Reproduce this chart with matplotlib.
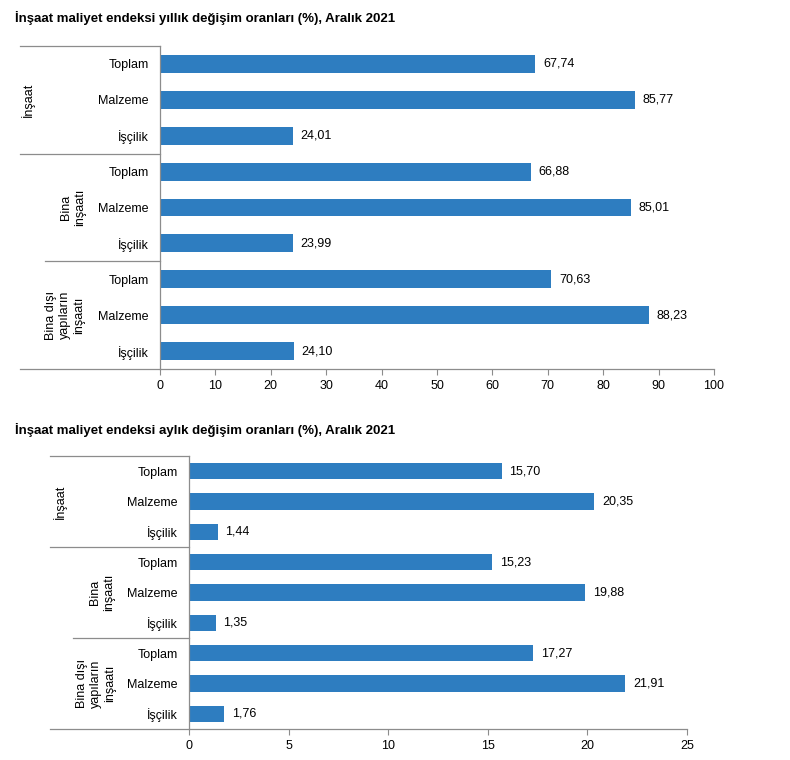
import matplotlib.pyplot as plt
from matplotlib.ticker import MultipleLocator

plt.rcParams['font.family'] = ['Liberation Sans', 'DejaVu Sans']

# data
categories = ["Toplam", "Malzeme", "İşçilik"] * 3
groups = ["İnşaat", "Bina\ninşaatı", "Bina dışı\nyapıların\ninşaatı"]
yearly = [67.74, 85.77, 24.01, 66.88, 85.01, 23.99, 70.63, 88.23, 24.10]
monthly = [15.70, 20.35, 1.44, 15.23, 19.88, 1.35, 17.27, 21.91, 1.76]

title_yearly = "İnşaat maliyet endeksi yıllık değişim oranları (%), Aralık 2021"
title_monthly = "İnşaat maliyet endeksi aylık değişim oranları (%), Aralık 2021"

bar_color = '#2e7dc0'
line_color = '#8c8c8c'
fs = 9

fig = plt.figure(figsize=(7.9, 7.6), dpi=100)


def fmt(v):
    return f"{v:.2f}".replace('.', ',')


def draw(ax, values, xmax, step, bar_h, group_x, sep_x, label_off):
    n = len(values)
    ys = list(range(n))
    ax.barh(ys, values, height=bar_h, color=bar_color)
    ax.set_ylim(n - 0.5, -0.5)
    ax.set_xlim(0, xmax)
    ax.xaxis.set_major_locator(MultipleLocator(step))
    ax.set_yticks(ys)
    ax.set_yticklabels(categories)
    ax.tick_params(axis='y', length=0, pad=8, labelsize=fs)
    ax.tick_params(axis='x', length=4, color=line_color, labelsize=fs, pad=4)
    for s in ['top', 'right']:
        ax.spines[s].set_visible(False)
    for s in ['left', 'bottom']:
        ax.spines[s].set_color(line_color)
        ax.spines[s].set_linewidth(0.9)
    for y, v in zip(ys, values):
        ax.annotate(fmt(v), (v, y), xytext=(label_off, 0), textcoords='offset points',
                    va='center', ha='left', fontsize=fs)
    tr = ax.get_yaxis_transform()
    # group separators
    bounds = [-0.5, 2.5, 5.5, 8.5]
    for b, x0 in zip(bounds, sep_x):
        ax.plot([x0, 0], [b, b], color=line_color, lw=0.9, transform=tr, clip_on=False)
    for i, (g, gx) in enumerate(zip(groups, group_x)):
        ax.text(gx, 3 * i + 1, g, rotation=90, ha='center', va='center',
                multialignment='center', fontsize=fs, linespacing=1.2,
                transform=tr)


ax1 = fig.add_axes([160 / 790, 1 - 369 / 760, 554 / 790, 323 / 760])
draw(ax1, yearly, 100, 10, 0.5,
     [(28 - 160) / 554, (73 - 160) / 554, (65 - 160) / 554],
     [(20 - 160) / 554, (20 - 160) / 554, (45 - 160) / 554, (20 - 160) / 554], 5.5)
fig.text(15 / 790, 1 - 18 / 760, title_yearly, fontsize=9.5, fontweight='bold',
         va='center', ha='left')

ax2 = fig.add_axes([189 / 790, 1 - 729 / 760, 498 / 790, 273 / 760])
draw(ax2, monthly, 25, 5, 0.53,
     [(60 - 189) / 498, (102 - 189) / 498, (96 - 189) / 498],
     [(50 - 189) / 498, (50 - 189) / 498, (73 - 189) / 498, (50 - 189) / 498], 5.5)
fig.text(15 / 790, 1 - 430 / 760, title_monthly, fontsize=9.5, fontweight='bold',
         va='center', ha='left')

fig.savefig('out.png', dpi=100, facecolor='white')
